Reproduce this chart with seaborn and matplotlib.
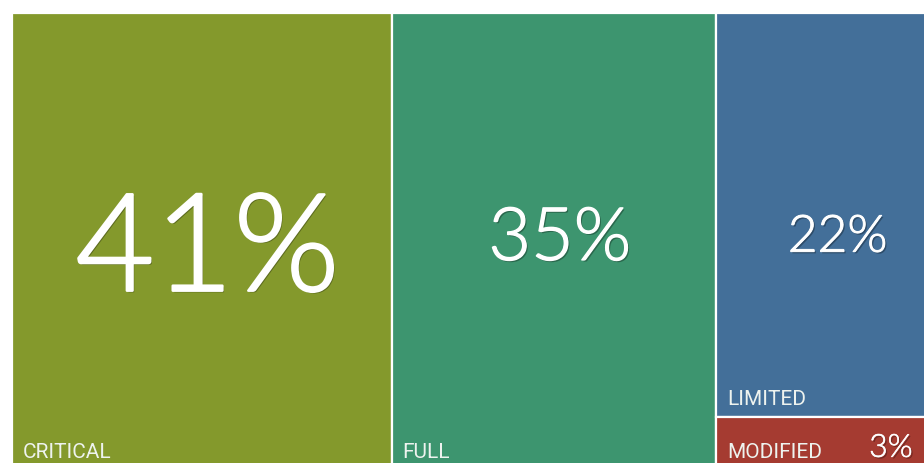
import matplotlib
matplotlib.use("Agg")
import os
import matplotlib.pyplot as plt
import matplotlib.patheffects as pe
from matplotlib import font_manager
from matplotlib.font_manager import FontProperties
import seaborn as sns
import numpy as np

# ---- data ----
categories = ["CRITICAL", "FULL", "LIMITED", "MODIFIED"]
values = [41, 35, 22, 3]
value_labels = ["41%", "35%", "22%", "3%"]
colors = ["#84992C", "#3D956F", "#436F99", "#A53B31"]

sns.set_theme(style="white")
fl = font_manager.fontManager.ttflist
names = {f.name for f in fl}
by_base = {os.path.basename(f.fname).lower(): f.fname for f in fl}
num_path = None
for cand in ["lato-light.ttf", "roboto-light.ttf", "opensans-light.ttf", "inter-light.ttf",
             "lato-regular.ttf", "liberationsans-regular.ttf"]:
    if cand in by_base:
        num_path = by_base[cand]
        break
lab_font = "Roboto" if "Roboto" in names else "Liberation Sans"
plt.rcParams["font.family"] = ["DejaVu Sans"]


def numfp(size):
    if num_path:
        return FontProperties(fname=num_path, size=size)
    return FontProperties(family="DejaVu Sans", size=size)


def effects(size):
    return [pe.SimplePatchShadow(offset=(1.2, -1.2), shadow_rgbFace="black", alpha=0.3),
            pe.Stroke(linewidth=size * 0.018, foreground="white"),
            pe.Normal()]


W, H = 924, 463
fig = plt.figure(figsize=(W / 100, H / 100), dpi=100)
fig.patch.set_facecolor("white")
ax = fig.add_axes([12 / W, -9 / H, 936 / W, 459 / H])

total = sum(values)
col_vals = [values[0], values[1], values[2] + values[3]]
lefts = np.concatenate([[0], np.cumsum(col_vals)[:-1]])
widths = col_vals
frac_mod = values[3] / (values[2] + values[3])

rect_left = [lefts[0], lefts[1], lefts[2], lefts[2]]
rect_width = [widths[0], widths[1], widths[2], widths[2]]
rect_bottom = [0, 0, frac_mod, 0]
rect_height = [1, 1, 1 - frac_mod, frac_mod]

ax.bar(rect_left, rect_height, width=rect_width, bottom=rect_bottom, align="edge",
       color=colors, edgecolor="white", linewidth=1.6)

ax.set_xlim(0, total)
ax.set_ylim(0, 1)
ax.axis("off")

num_sizes = [98, 53, 37]
num_y = [0.395, 0.462, 0.48]
for i in range(3):
    cx = rect_left[i] + rect_width[i] / 2
    ax.text(cx + 0.6, num_y[i], value_labels[i], ha="center", va="baseline",
            fontproperties=numfp(num_sizes[i]), color="white",
            path_effects=effects(num_sizes[i]))
ax.text(rect_left[3] + rect_width[3] - 3.8, 0.033, value_labels[3], ha="right",
        va="baseline", fontproperties=numfp(23), color="white", path_effects=effects(23))

lab_color = "#EEF3EF"
lab_pos_y = [0.03, 0.03, 0.146, 0.03]
for i in range(4):
    ax.text(rect_left[i] + 1.15, lab_pos_y[i], categories[i], ha="left", va="baseline",
            fontsize=15, color=lab_color, family=[lab_font])

fig.savefig("out.png", dpi=100, facecolor="white")
